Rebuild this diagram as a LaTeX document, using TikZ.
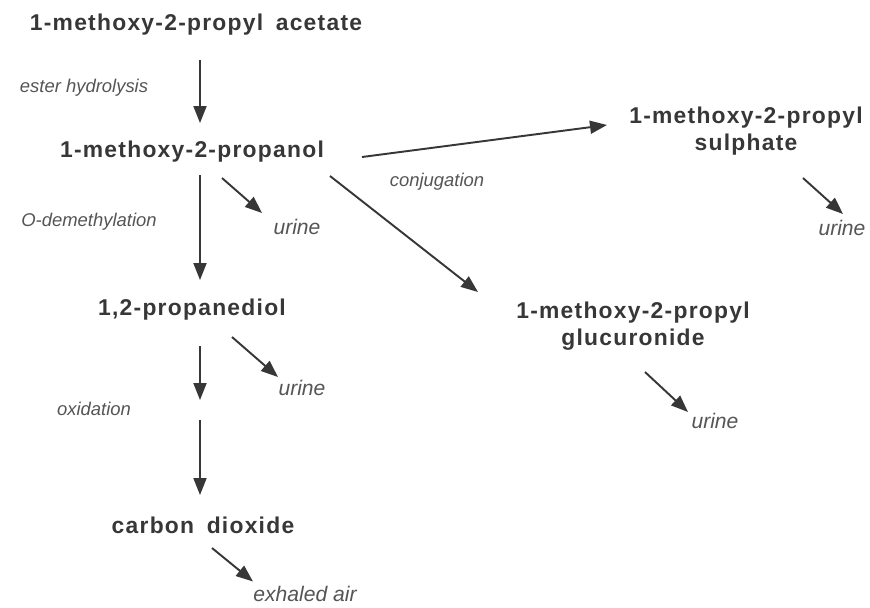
\documentclass[tikz,border=0pt]{standalone}
\usepackage{fontspec}
\usepackage{tikz}
\usetikzlibrary{arrows.meta}
\setmainfont{Liberation Sans}
\newfontfamily\cmpfont[LetterSpace=5.5]{Liberation Sans}
\definecolor{T}{RGB}{55, 55, 55}
\definecolor{L}{RGB}{85, 85, 85}
\tikzset{
  cmp/.style={inner sep=0pt, text=T, align=center,
    font=\cmpfont\bfseries\fontsize{13}{15.5}\selectfont},
  proc/.style={inner sep=0pt, text=L, font=\itshape\fontsize{10.5}{12}\selectfont},
  sink/.style={inner sep=0pt, text=L, font=\itshape\fontsize{12}{14}\selectfont},
  arr/.style={draw=T, line width=1.1pt, -{Triangle[length=3.4mm,width=2.6mm]}}
}

\begin{document}
\begin{tikzpicture}
    \useasboundingbox (0,0) rectangle (17.4,-12.14);

    % compuestos
    \node[cmp] (acetate) at (3.92,-0.5) {1-methoxy-2-propyl\hspace{0.55em}acetate};
    \node[cmp] (propanol) at (3.84,-3.04) {1-methoxy-2-propanol};
    \node[cmp] (diol) at (3.84,-6.2) {1,2-propanediol};
    \node[cmp] (co2) at (4.06,-10.5) {carbon\hspace{0.55em}dioxide};
    \node[cmp] (sulph) at (14.92,-2.62) {1-methoxy-2-propyl\\sulphate};
    \node[cmp] (gluc) at (12.66,-6.52) {1-methoxy-2-propyl\\glucuronide};

    % procesos
    \node[proc] (hydro) at (1.68,-1.76) {ester hydrolysis};
    \node[proc] (demeth) at (1.78,-4.44) {O-demethylation};
    \node[proc] (oxid) at (1.88,-8.18) {oxidation};
    \node[proc] (conj) at (8.74,-3.64) {conjugation};

    % excrecion
    \node[sink] (urineA) at (5.94,-4.54) {urine};
    \node[sink] (urineB) at (6.04,-7.76) {urine};
    \node[sink] (urineC) at (16.84,-4.56) {urine};
    \node[sink] (urineD) at (14.3,-8.42) {urine};
    \node[sink] (air) at (6.1,-11.87) {exhaled air};

    \coordinate (oxstep) at (4,-8.2); %paso intermedio

    % flechas verticales
    \draw[arr] ([shift={(0.08,-0.7)}]acetate.center) -- ([shift={(0.16,0.58)}]propanol.center);
    \draw[arr] ([shift={(0.16,-0.46)}]propanol.center) -- ([shift={(0.16,0.6)}]diol.center);
    \draw[arr] ([shift={(0.16,-0.72)}]diol.center) -- ([shift={(0,0.2)}]oxstep);
    \draw[arr] ([shift={(0,-0.2)}]oxstep) -- ([shift={(-0.06,0.6)}]co2.center);

    % conjugacion
    \draw[arr] ([shift={(3.4,-0.1)}]propanol.center) -- ([shift={(-2.78,0.12)}]sulph.center);
    \draw[arr] ([shift={(2.76,-0.48)}]propanol.center) -- ([shift={(-3.1,0.68)}]gluc.center);

    % hacia orina y aire
    \draw[arr] ([shift={(0.6,-0.52)}]propanol.center) -- ([shift={(-0.7,0.28)}]urineA.center);
    \draw[arr] ([shift={(0.8,-0.54)}]diol.center) -- ([shift={(-0.48,0.22)}]urineB.center);
    \draw[arr] ([shift={(1.14,-0.94)}]sulph.center) -- ([shift={(0.02,0.28)}]urineC.center);
    \draw[arr] ([shift={(0.24,-0.92)}]gluc.center) -- ([shift={(-0.54,0.18)}]urineD.center);
    \draw[arr] ([shift={(0.18,-0.46)}]co2.center) -- ([shift={(-1.04,0.24)}]air.center);
\end{tikzpicture}
\end{document}
